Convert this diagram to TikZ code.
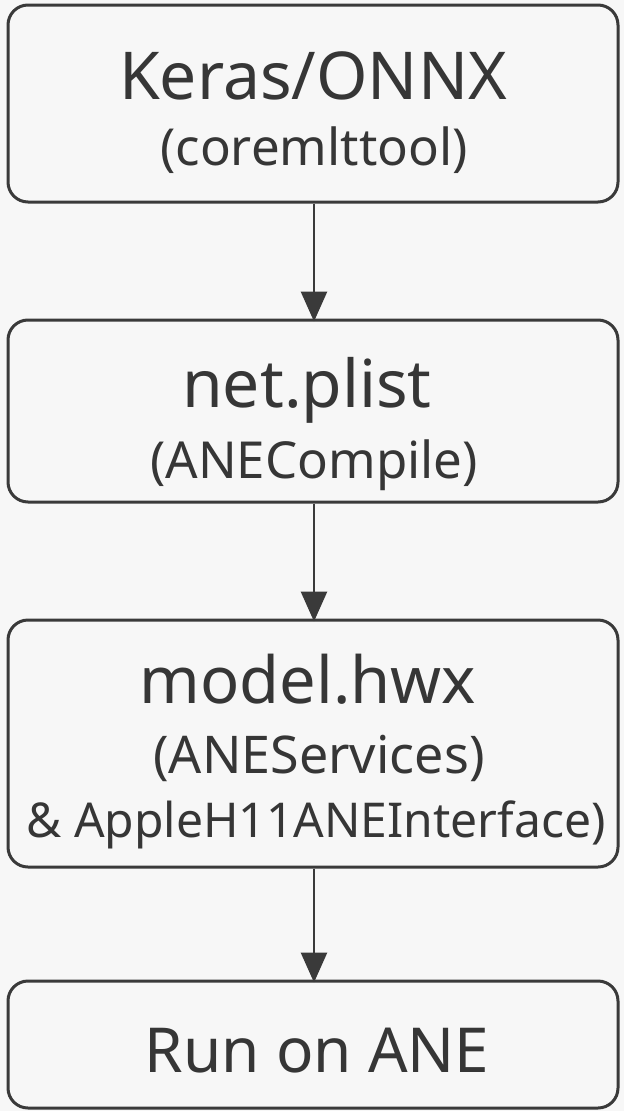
\documentclass[tikz,border=0pt]{standalone}
\usepackage{fontspec}
\setmainfont{Noto Sans}
\usetikzlibrary{arrows.meta}
\definecolor{bgc}{HTML}{F7F7F7}
\definecolor{strk}{HTML}{3A3A3A}
\definecolor{txt}{HTML}{363636}
\begin{document}
\begin{tikzpicture}[x=1pt,y=-1pt,
  box/.style={draw=strk,line width=3pt,rounded corners=20pt,fill=bgc,inner sep=0pt,minimum width=610pt},
  big/.style={anchor=base,text=txt,inner sep=0pt,font=\fontsize{66}{70}\selectfont},
  sub/.style={anchor=base,text=txt,inner sep=0pt,font=\fontsize{51}{56}\selectfont},
  flow/.style={draw=strk,line width=2.8pt,-{Triangle[width=26pt,length=30pt]}}]
\fill[bgc] (0,0) rectangle (624,1111);
\useasboundingbox (0,0) rectangle (624,1111);
% boxes
\node[box,minimum height=197pt] (b1) at (313,103.5) {};
\node[box,minimum height=182pt] (b2) at (313,411) {};
\node[box,minimum height=247pt] (b3) at (313,743.5) {};
\node[box,minimum height=127pt] (b4) at (313,1044.5) {};
% texts
\node[big] (t1a) at (313,99) {Keras/ONNX};
\node[sub] (t1b) at (314,165) {(coremlttool)};
\node[big] (t2a) at (307,407) {net.plist};
\node[sub] (t2b) at (314,478) {(ANECompile)};
\node[big,font=\fontsize{65}{70}\selectfont] (t3a) at (308,703) {model.hwx};
\node[sub,font=\fontsize{52}{56}\selectfont] (t3b) at (319,773) {(ANEServices)};
\node[sub,font=\fontsize{48}{52}\selectfont] (t3c) at (316,837) {\& AppleH11ANEInterface)};
\node[big,font=\fontsize{62}{66}\selectfont] (t4a) at (317,1072) {Run on ANE};
% arrows
\draw[flow] ([xshift=1pt]b1.south) -- ([xshift=1pt,yshift=-3pt]b2.north);
\draw[flow] ([xshift=1pt]b2.south) -- ([xshift=1pt,yshift=-3pt]b3.north);
\draw[flow] ([xshift=1pt]b3.south) -- ([xshift=1pt,yshift=-3pt]b4.north);
\end{tikzpicture}
\end{document}
